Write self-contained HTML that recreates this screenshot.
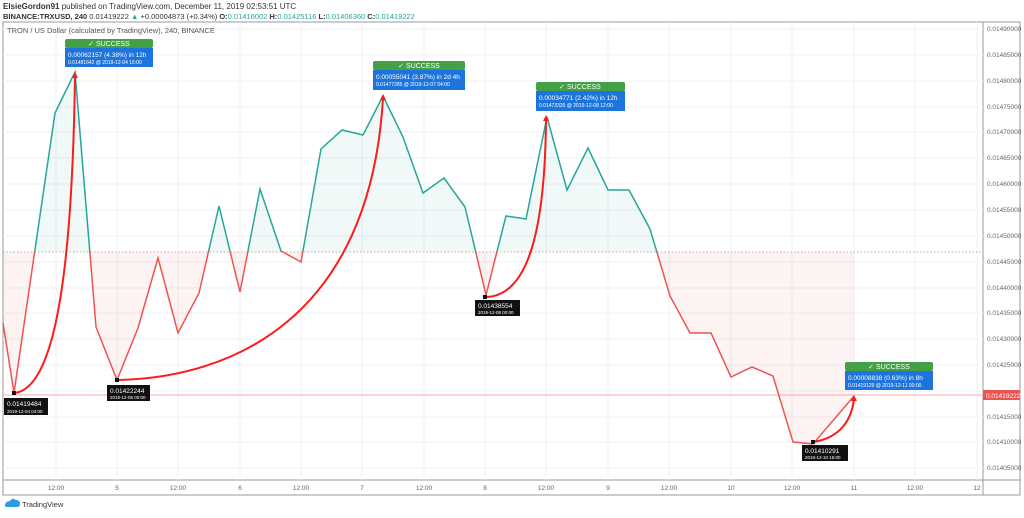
<!DOCTYPE html>
<html><head><meta charset="utf-8"><style>
body{margin:0;background:#fff;width:1024px;height:513px;overflow:hidden;font-family:"Liberation Sans",sans-serif}
</style></head><body>
<svg width="1024" height="513" xmlns="http://www.w3.org/2000/svg" font-family="Liberation Sans, sans-serif">
<text x="3" y="9" font-size="8" fill="#333"><tspan font-weight="bold">ElsieGordon91</tspan> published on TradingView.com, December 11, 2019 02:53:51 UTC</text>
<text x="3" y="19" font-size="7.5" fill="#333"><tspan font-weight="bold">BINANCE:TRXUSD, 240</tspan> 0.01419222 <tspan fill="#26a69a">▲</tspan> +0.00004873 (+0.34%) <tspan font-weight="bold">O:</tspan><tspan fill="#26a69a">0.01416002</tspan> <tspan font-weight="bold">H:</tspan><tspan fill="#26a69a">0.01425116</tspan> <tspan font-weight="bold">L:</tspan><tspan fill="#26a69a">0.01406360</tspan> <tspan font-weight="bold">C:</tspan><tspan fill="#26a69a">0.01419222</tspan></text>
<rect x="3" y="22" width="1017" height="473" fill="none" stroke="#9a9a9a" stroke-width="1"/>
<line x1="983" y1="22" x2="983" y2="495" stroke="#9a9a9a"/>
<line x1="3" y1="480" x2="1020" y2="480" stroke="#9a9a9a"/>
<g stroke="#edf2f5" stroke-width="1">
<line x1="3" x2="983" y1="29" y2="29"/><line x1="3" x2="983" y1="55" y2="55"/><line x1="3" x2="983" y1="81" y2="81"/><line x1="3" x2="983" y1="107" y2="107"/><line x1="3" x2="983" y1="132" y2="132"/><line x1="3" x2="983" y1="158" y2="158"/><line x1="3" x2="983" y1="184" y2="184"/><line x1="3" x2="983" y1="210" y2="210"/><line x1="3" x2="983" y1="236" y2="236"/><line x1="3" x2="983" y1="262" y2="262"/><line x1="3" x2="983" y1="288" y2="288"/><line x1="3" x2="983" y1="313" y2="313"/><line x1="3" x2="983" y1="339" y2="339"/><line x1="3" x2="983" y1="365" y2="365"/><line x1="3" x2="983" y1="391" y2="391"/><line x1="3" x2="983" y1="417" y2="417"/><line x1="3" x2="983" y1="442" y2="442"/><line x1="3" x2="983" y1="468" y2="468"/>
<line y1="22" y2="480" x1="56" x2="56"/><line y1="22" y2="480" x1="117" x2="117"/><line y1="22" y2="480" x1="178" x2="178"/><line y1="22" y2="480" x1="240" x2="240"/><line y1="22" y2="480" x1="301" x2="301"/><line y1="22" y2="480" x1="362" x2="362"/><line y1="22" y2="480" x1="424" x2="424"/><line y1="22" y2="480" x1="485" x2="485"/><line y1="22" y2="480" x1="546" x2="546"/><line y1="22" y2="480" x1="608" x2="608"/><line y1="22" y2="480" x1="669" x2="669"/><line y1="22" y2="480" x1="731" x2="731"/><line y1="22" y2="480" x1="792" x2="792"/><line y1="22" y2="480" x1="854" x2="854"/><line y1="22" y2="480" x1="915" x2="915"/><line y1="22" y2="480" x1="977" x2="977"/>
</g>
<text x="7" y="33" font-size="7.5" fill="#555">TRON / US Dollar (calculated by TradingView), 240, BINANCE</text>
<g font-size="6.5" fill="#666">
<text x="987" y="31">0.01490000</text><text x="987" y="57">0.01485000</text><text x="987" y="83">0.01480000</text><text x="987" y="109">0.01475000</text><text x="987" y="134">0.01470000</text><text x="987" y="160">0.01465000</text><text x="987" y="186">0.01460000</text><text x="987" y="212">0.01455000</text><text x="987" y="238">0.01450000</text><text x="987" y="264">0.01445000</text><text x="987" y="290">0.01440000</text><text x="987" y="315">0.01435000</text><text x="987" y="341">0.01430000</text><text x="987" y="367">0.01425000</text><text x="987" y="419">0.01415000</text><text x="987" y="444">0.01410000</text><text x="987" y="470">0.01405000</text>
</g>
<g font-size="6.5" fill="#666" text-anchor="middle">
<text x="56" y="490">12:00</text><text x="117" y="490">5</text><text x="178" y="490">12:00</text><text x="240" y="490">6</text><text x="301" y="490">12:00</text><text x="362" y="490">7</text><text x="424" y="490">12:00</text><text x="485" y="490">8</text><text x="546" y="490">12:00</text><text x="608" y="490">9</text><text x="669" y="490">12:00</text><text x="731" y="490">10</text><text x="792" y="490">12:00</text><text x="854" y="490">11</text><text x="915" y="490">12:00</text><text x="977" y="490">12</text>
</g>
<defs>
<clipPath id="up"><rect x="0" y="0" width="1024" height="252"/></clipPath>
<clipPath id="dn"><rect x="0" y="252" width="1024" height="300"/></clipPath>
</defs>
<g id="fills">
<polygon clip-path="url(#up)" fill="#26a69a" fill-opacity="0.07" points="3,252 3,323 14,393 55,113 75,72 96,327 117,380 138,328 158,258 178,333 199,293 219,206 240,292 260,189 281,251 301,262 321,149 342,130 363,135 383,96 403,137 423,193 444,178 465,207 486,295 506,216 526,219 547,117 567,190 588,148 608,190 629,190 650,229 670,296 690,333 711,333 731,377 752,367 773,376 793,442 813,444 854,396 854,252"/>
<polygon clip-path="url(#dn)" fill="#ef5350" fill-opacity="0.07" points="3,252 3,323 14,393 55,113 75,72 96,327 117,380 138,328 158,258 178,333 199,293 219,206 240,292 260,189 281,251 301,262 321,149 342,130 363,135 383,96 403,137 423,193 444,178 465,207 486,295 506,216 526,219 547,117 567,190 588,148 608,190 629,190 650,229 670,296 690,333 711,333 731,377 752,367 773,376 793,442 813,444 854,396 854,252"/>
</g>
<line x1="3" y1="252" x2="983" y2="252" stroke="#999" stroke-dasharray="1.5,2" stroke-width="0.8"/>
<line x1="3" y1="395" x2="983" y2="395" stroke="#f7a9a8" stroke-width="1"/>
<polyline clip-path="url(#up)" fill="none" stroke="#26a69a" stroke-width="1.5" points="3,323 14,393 55,113 75,72 96,327 117,380 138,328 158,258 178,333 199,293 219,206 240,292 260,189 281,251 301,262 321,149 342,130 363,135 383,96 403,137 423,193 444,178 465,207 486,295 506,216 526,219 547,117 567,190 588,148 608,190 629,190 650,229 670,296 690,333 711,333 731,377 752,367 773,376 793,442 813,444 854,396"/>
<polyline clip-path="url(#dn)" fill="none" stroke="#ef5350" stroke-width="1.5" points="3,323 14,393 55,113 75,72 96,327 117,380 138,328 158,258 178,333 199,293 219,206 240,292 260,189 281,251 301,262 321,149 342,130 363,135 383,96 403,137 423,193 444,178 465,207 486,295 506,216 526,219 547,117 567,190 588,148 608,190 629,190 650,229 670,296 690,333 711,333 731,377 752,367 773,376 793,442 813,444 854,396"/>
<g fill="none" stroke="#ff1a1a" stroke-width="2">
<path d="M14,393 C50,390 72,300 75,74"/>
<path d="M117,380 C230,378 370,320 383,98"/>
<path d="M485,297 C525,297 545,240 546,119"/>
<path d="M813,442 C840,438 852,420 854,398"/>
</g>
<g fill="#ff1a1a"><path d="M75,72 l-3,6 h6z"/><path d="M383,94 l-3,6 h6z"/><path d="M546,115 l-3,6 h6z"/><path d="M854,395 l-3,6 h6z"/></g>
<g fill="#111"><rect x="12" y="391" width="4" height="4"/><rect x="115" y="378" width="4" height="4"/><rect x="483" y="295" width="4" height="4"/><rect x="811" y="440" width="4" height="4"/></g>
<g font-size="6.5" fill="#fff">
<rect x="65" y="39" width="88" height="9" rx="2" fill="#43a047"/><text x="109" y="46" text-anchor="middle" font-size="7">✓ SUCCESS</text>
<rect x="65" y="48" width="88" height="19" fill="#1e74dd"/><text x="68" y="57" font-size="6.5">0.00062157 (4.38%) in 12h</text><text x="68" y="64" font-size="5">0.01481642 @ 2019-12-04  16:00</text>
<rect x="373" y="61" width="92" height="9" rx="2" fill="#43a047"/><text x="419" y="68" text-anchor="middle" font-size="7">✓ SUCCESS</text>
<rect x="373" y="70" width="92" height="20" fill="#1e74dd"/><text x="376" y="79" font-size="6.5">0.00055041 (3.87%) in 2d 4h</text><text x="376" y="86" font-size="5">0.01477285 @ 2019-12-07  04:00</text>
<rect x="536" y="82" width="89" height="9" rx="2" fill="#43a047"/><text x="580" y="89" text-anchor="middle" font-size="7">✓ SUCCESS</text>
<rect x="536" y="91" width="89" height="20" fill="#1e74dd"/><text x="539" y="100" font-size="6.5">0.00034771 (2.42%) in 12h</text><text x="539" y="107" font-size="5">0.01473325 @ 2019-12-08  12:00</text>
<rect x="845" y="362" width="88" height="9" rx="2" fill="#43a047"/><text x="889" y="369" text-anchor="middle" font-size="7">✓ SUCCESS</text>
<rect x="845" y="371" width="88" height="19" fill="#1e74dd"/><text x="848" y="380" font-size="6.5">0.00008838 (0.63%) in 8h</text><text x="848" y="387" font-size="5">0.01419129 @ 2019-12-11  00:00</text>
</g>
<g font-size="6.5" fill="#fff">
<rect x="4" y="398" width="44" height="17" fill="#111"/><text x="7" y="406">0.01419484</text><text x="7" y="413" font-size="4.5">2019-12-04 04:00</text>
<rect x="107" y="385" width="43" height="16" fill="#111"/><text x="110" y="393">0.01422244</text><text x="110" y="399" font-size="4.5">2019-12-05 00:00</text>
<rect x="475" y="300" width="45" height="16" fill="#111"/><text x="478" y="308">0.01438554</text><text x="478" y="314" font-size="4.5">2019-12-08 00:00</text>
<rect x="802" y="445" width="46" height="16" fill="#111"/><text x="805" y="453">0.01410291</text><text x="805" y="459" font-size="4.5">2019-12-10 16:00</text>
</g>
<rect x="983" y="390" width="37" height="10" fill="#ef5350"/><text x="986" y="398" font-size="6.5" fill="#fff">0.01419222</text>
<path d="M5,506 q0,-5 5,-5 q2,-4 6,-1 q4,0 4,4 q0,3 -3,3 h-10 q-2,0 -2,-1z" fill="#2e9be6"/>
<text x="22" y="507" font-size="7.5" fill="#333">TradingView</text>
</svg>
</body></html>
